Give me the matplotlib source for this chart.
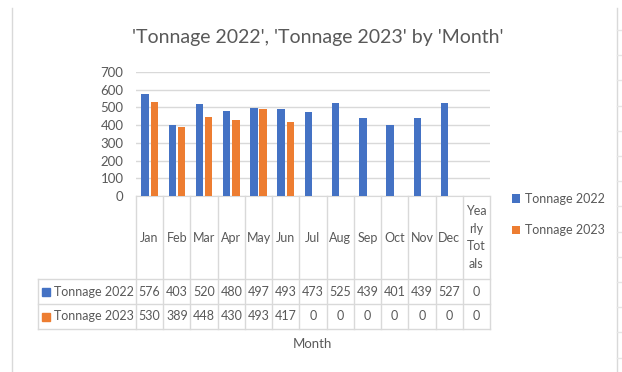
import matplotlib
matplotlib.use('Agg')

import matplotlib.pyplot as plt
from matplotlib.lines import Line2D
import numpy as np

plt.rcParams['font.family'] = ['Lato', 'DejaVu Sans']

months = ['Jan', 'Feb', 'Mar', 'Apr', 'May', 'Jun', 'Jul', 'Aug', 'Sep', 'Oct', 'Nov', 'Dec', 'Yea\nrly\nTot\nals']
tonnage2022 = [576, 403, 520, 480, 497, 493, 473, 525, 439, 401, 439, 527, 0]
tonnage2023 = [530, 389, 448, 430, 493, 417, 0, 0, 0, 0, 0, 0, 0]
seriesNames = ['Tonnage 2022', 'Tonnage 2023']

BLUE = '#4472C4'
ORANGE = '#ED7D31'
GRID = '#D9D9D9'
TEXT = '#595959'
FS = 9

W, H = 622, 372
fig = plt.figure(figsize=(W / 100, H / 100), dpi=100)


def box(left, top, right, bottom):
    # pixel box -> figure fraction rect
    return [left / W, 1 - bottom / H, (right - left) / W, (bottom - top) / H]


ax = fig.add_axes(box(136, 72, 490, 196))
x = np.arange(len(months))
width = 0.27
off = 0.17

for vals, color, name, sign in [(tonnage2022, BLUE, seriesNames[0], -1),
                                (tonnage2023, ORANGE, seriesNames[1], 1)]:
    v = np.array(vals, dtype=float)
    mask = v > 0
    ax.bar(x[mask] + sign * off, v[mask], width, color=color, label=name, zorder=3)

ax.set_xlim(-0.5, len(months) - 0.5)
ax.set_ylim(0, 700)
ax.set_yticks(range(0, 701, 100))
ax.set_xticks([])
ax.grid(axis='y', color=GRID, linewidth=1, zorder=0)
for s in ['top', 'right', 'left']:
    ax.spines[s].set_visible(False)
ax.spines['bottom'].set_color(GRID)
ax.tick_params(axis='y', length=0, pad=9, labelsize=FS + 0.5, labelcolor=TEXT)

# data table under the plot
tab = fig.add_axes(box(38, 196, 490, 329))
colW = 354 / len(months)
left0 = -0.5 - 98 / colW
tab.set_xlim(left0, len(months) - 0.5)
tab.set_ylim(133, 0)
tab.axis('off')

for k in range(len(months) + 1):
    tab.plot([k - 0.5, k - 0.5], [0, 133], color=GRID, lw=1, clip_on=False)
tab.plot([left0, left0], [83, 133], color=GRID, lw=1, clip_on=False)
for yy in [83, 108, 133]:
    tab.plot([left0, len(months) - 0.5], [yy, yy], color=GRID, lw=1, clip_on=False)

for i, m in enumerate(months):
    tab.text(i, 41.5, m, ha='center', va='center', fontsize=FS, color=TEXT,
             linespacing=1.55)
    tab.text(i, 95.5, str(tonnage2022[i]), ha='center', va='center', fontsize=FS, color=TEXT)
    tab.text(i, 120.5, str(tonnage2023[i]), ha='center', va='center', fontsize=FS, color=TEXT)

keyX = left0 + 8 / colW
for yy, name, color in [(95.5, seriesNames[0], BLUE), (120.5, seriesNames[1], ORANGE)]:
    tab.plot(keyX, yy, marker='s', markersize=5.5, color=color, clip_on=False)
    tab.text(keyX + 7.5 / colW, yy, name, ha='left', va='center', fontsize=FS, color=TEXT)

fig.text(318 / W, 1 - 37 / H, "'Tonnage 2022', 'Tonnage 2023' by 'Month'",
         ha='center', va='center', fontsize=14, color=TEXT)
fig.text(312 / W, 1 - 344 / H, 'Month', ha='center', va='center', fontsize=FS + 0.5, color=TEXT)

handles, labels = ax.get_legend_handles_labels()
fig.legend(handles, labels, loc='upper left', bbox_to_anchor=(512 / W, 1 - 193 / H),
           frameon=False, fontsize=FS, labelcolor=TEXT, handlelength=0.65,
           handleheight=0.65, handletextpad=0.4, labelspacing=1.55,
           borderpad=0, borderaxespad=0)

# chart frame and sheet gridlines at the edges
fig.add_artist(Line2D([12 / W, 12 / W], [0, 1 - 8 / H], color=GRID, lw=1))
fig.add_artist(Line2D([617 / W, 617 / W], [0, 1 - 8 / H], color=GRID, lw=1))
for yy in np.arange(30, H, 25.2):
    fig.add_artist(Line2D([617 / W, 1], [1 - yy / H, 1 - yy / H], color='#E6E6E6', lw=1))

fig.savefig('out.png', dpi=100)
